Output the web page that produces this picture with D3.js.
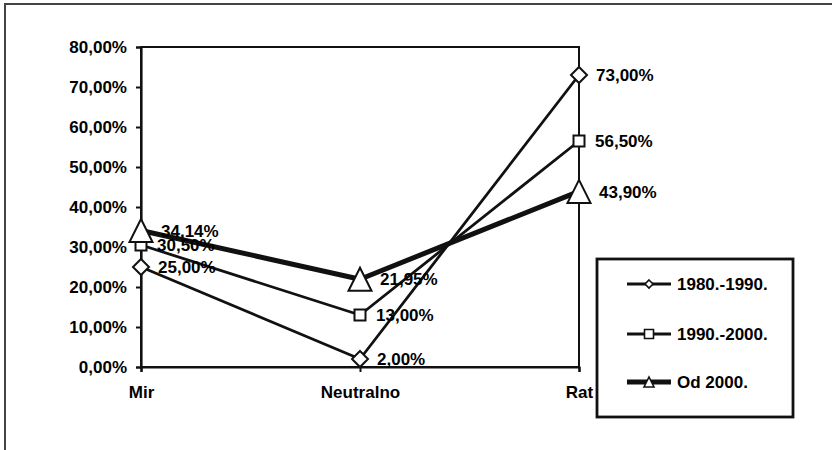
<!DOCTYPE html>
<html>
<head>
<meta charset="utf-8">
<script src="https://cdn.jsdelivr.net/npm/d3@7"></script>
<style>
  body { margin: 0; background: #fff; }
  text { font-family: "Liberation Sans", Arial, sans-serif; font-weight: bold; fill: #000; }
</style>
</head>
<body>
<div id="chart"></div>
<script>
const categories = ['Mir', 'Neutralno', 'Rat'];
const seriesNames = ['1980.-1990.', '1990.-2000.', 'Od 2000.'];
const s1980 = [0.25, 0.02, 0.73];
const s1990 = [0.305, 0.13, 0.565];
const s2000 = [0.3414, 0.2195, 0.439];
const yTicks = [0, 0.1, 0.2, 0.3, 0.4, 0.5, 0.6, 0.7, 0.8];

const w = 832;
const h = 450;

const locale = d3.formatLocale({ decimal: ',', thousands: '.', grouping: [3], currency: ['', ''] });
const pct = locale.format('.2%');

const svg = d3.select('#chart')
  .append('svg')
  .attr('width', w)
  .attr('height', h);

// outer frame (cut off at right and bottom)
svg.append('rect')
  .attr('x', 5).attr('y', 4)
  .attr('width', 900).attr('height', 600)
  .attr('fill', 'none')
  .attr('stroke', '#444')
  .attr('stroke-width', 2);

const xScale = d3.scalePoint().domain(categories).range([141, 579]);
const yScale = d3.scaleLinear().domain([0, 0.8]).range([367, 47]);

// plot area border
svg.append('rect')
  .attr('x', 141).attr('y', 47)
  .attr('width', 438).attr('height', 320)
  .attr('fill', 'none')
  .attr('stroke', '#111')
  .attr('stroke-width', 2);

const yAxis = d3.axisLeft(yScale).tickValues(yTicks).tickFormat(pct).tickSize(5).tickPadding(9);
const gy = svg.append('g')
  .attr('transform', 'translate(141,0)')
  .call(yAxis);
gy.select('.domain').attr('stroke', '#111').attr('stroke-width', 2.2);
gy.selectAll('.tick line').attr('stroke', '#111').attr('stroke-width', 2);
gy.selectAll('.tick text').style('font-size', '17px').attr('fill', '#000');

const xAxis = d3.axisBottom(xScale).tickSize(5).tickPadding(14);
const gx = svg.append('g')
  .attr('transform', 'translate(0,367)')
  .call(xAxis);
gx.select('.domain').attr('stroke', '#111').attr('stroke-width', 2.2);
gx.selectAll('.tick line').attr('stroke', '#111').attr('stroke-width', 2);
gx.selectAll('.tick text').style('font-size', '17px').attr('fill', '#000');

const series = [
  { name: seriesNames[0], values: s1980, shape: 'diamond', lw: 2.8, off: 17 },
  { name: seriesNames[1], values: s1990, shape: 'square', lw: 2.8, off: 16 },
  { name: seriesNames[2], values: s2000, shape: 'triangle', lw: 5, off: 20 }
];

function markerPath(shape, s) {
  if (shape === 'diamond') return `M0,${-s}L${s},0L0,${s}L${-s},0Z`;
  if (shape === 'square') return `M${-s},${-s}H${s}V${s}H${-s}Z`;
  return `M0,${-s}L${s},${s}L${-s},${s}Z`;
}
const mSize = { diamond: 8, square: 5.5, triangle: 11.5 };

const line = d3.line()
  .x((d, i) => xScale(categories[i]))
  .y(d => yScale(d));

series.forEach(s => {
  svg.append('path')
    .datum(s.values)
    .attr('d', line)
    .attr('fill', 'none')
    .attr('stroke', '#111')
    .attr('stroke-width', s.lw)
    .attr('stroke-linejoin', 'round');
});

series.forEach(s => {
  svg.selectAll(null)
    .data(s.values)
    .enter()
    .append('path')
    .attr('transform', (d, i) => `translate(${xScale(categories[i])},${yScale(d)})`)
    .attr('d', markerPath(s.shape, mSize[s.shape]))
    .attr('fill', '#fff')
    .attr('stroke', '#111')
    .attr('stroke-width', 2);
});

series.forEach(s => {
  svg.selectAll(null)
    .data(s.values)
    .enter()
    .append('text')
    .attr('x', (d, i) => xScale(categories[i]) + s.off)
    .attr('y', d => yScale(d))
    .attr('dy', '0.36em')
    .style('font-size', '17px')
    .text(d => pct(d));
});

// legend
const lg = svg.append('g');
lg.append('rect')
  .attr('x', 597).attr('y', 259)
  .attr('width', 196).attr('height', 158)
  .attr('fill', '#fff')
  .attr('stroke', '#111')
  .attr('stroke-width', 2.8);

const legendY = [284, 334, 382];
const legendMarker = { diamond: 4, square: 4.5, triangle: 5 };
series.forEach((s, i) => {
  const y = legendY[i];
  lg.append('line')
    .attr('x1', 627).attr('x2', 671)
    .attr('y1', y).attr('y2', y)
    .attr('stroke', '#111')
    .attr('stroke-width', i === 2 ? 5 : 2.8);
  lg.append('path')
    .attr('transform', `translate(649,${y})`)
    .attr('d', markerPath(s.shape, legendMarker[s.shape]))
    .attr('fill', '#fff')
    .attr('stroke', '#111')
    .attr('stroke-width', 1.6);
  lg.append('text')
    .attr('x', 677).attr('y', y)
    .attr('dy', '0.36em')
    .style('font-size', '17px')
    .text(s.name);
});
</script>
</body>
</html>
